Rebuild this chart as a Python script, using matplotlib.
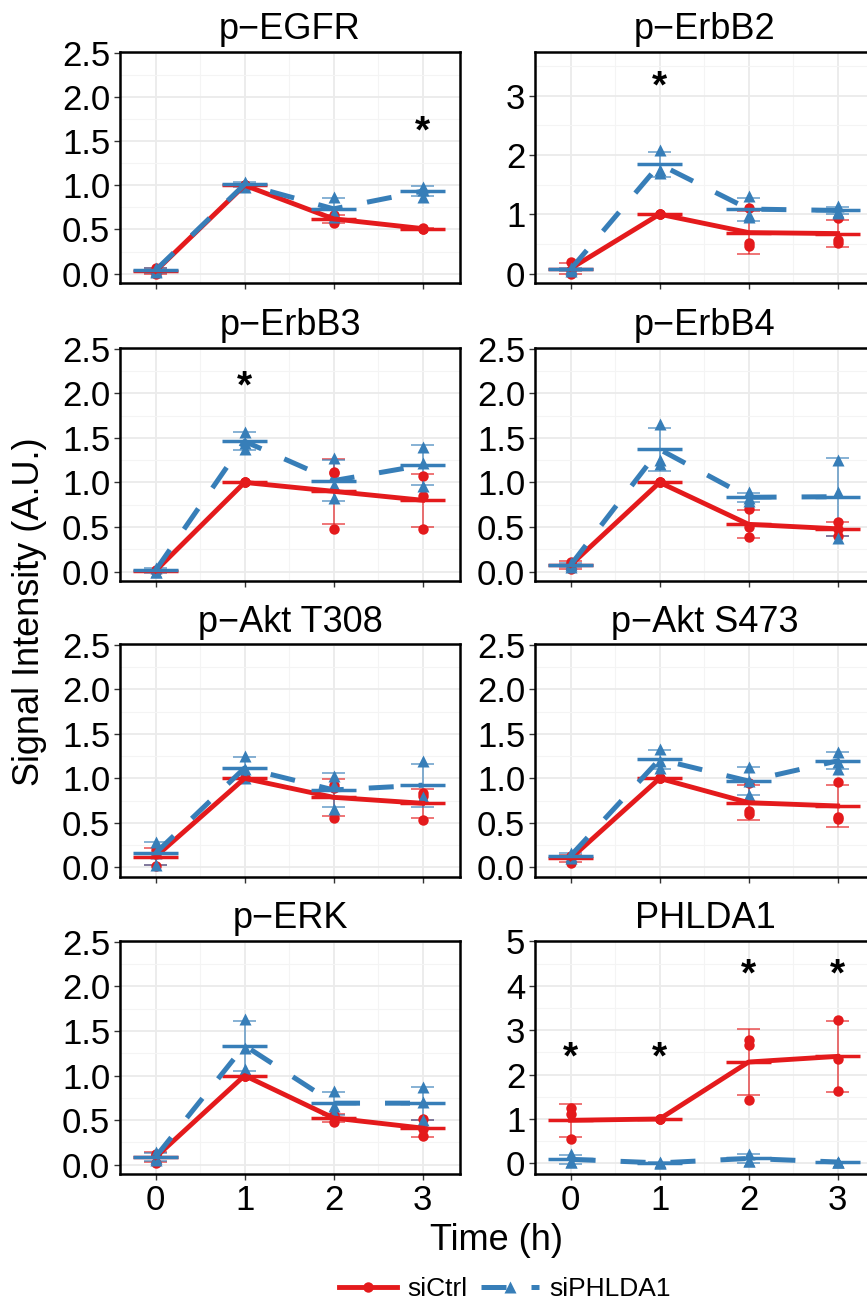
import numpy as np
import matplotlib
matplotlib.use("Agg")
import matplotlib.pyplot as plt
from matplotlib.lines import Line2D

plt.rcParams['font.family'] = ['Liberation Sans', 'DejaVu Sans']

# ---------------- data (replicates: 4 time points x 3 replicates) ----------------
TIME = [0, 1, 2, 3]
TITLES = ["p\u2212EGFR", "p\u2212ErbB2", "p\u2212ErbB3", "p\u2212ErbB4",
          "p\u2212Akt T308", "p\u2212Akt S473", "p\u2212ERK", "PHLDA1"]

EGFR_CTRL = [[0.00, 0.03, 0.06], [1, 1, 1], [0.57, 0.63, 0.66], [0.50, 0.51, 0.52]]
EGFR_SI   = [[0.02, 0.03, 0.07], [0.98, 1.01, 1.04], [0.87, 0.69, 0.64], [0.98, 0.87, 0.95]]

ERBB2_CTRL = [[0.19, 0.00, 0.06], [1, 1, 1], [0.46, 1.10, 0.51], [0.93, 0.57, 0.52]]
ERBB2_SI   = [[0.05, 0.07, 0.09], [2.08, 1.75, 1.69], [1.31, 0.96, 0.99], [1.13, 1.02, 1.04]]

ERBB3_CTRL = [[0.00, 0.01, 0.02], [1, 1, 1], [0.48, 1.10, 1.12], [0.48, 0.85, 1.07]]
ERBB3_SI   = [[0.00, 0.00, 0.045], [1.57, 1.37, 1.44], [1.27, 0.82, 0.97], [1.40, 1.22, 0.96]]

ERBB4_CTRL = [[0.03, 0.08, 0.11], [1, 1, 1], [0.70, 0.50, 0.39], [0.56, 0.48, 0.40]]
ERBB4_SI   = [[0.05, 0.07, 0.10], [1.65, 1.25, 1.21], [0.89, 0.82, 0.79], [1.25, 0.89, 0.38]]

AKT308_CTRL = [[0.01, 0.15, 0.20], [1, 1, 1], [0.55, 0.92, 0.89], [0.53, 0.83, 0.80]]
AKT308_SI   = [[0.29, 0.03, 0.16], [1.25, 1.10, 1.00], [1.03, 0.66, 0.92], [1.20, 0.79, 0.78]]

AKT473_CTRL = [[0.05, 0.12, 0.13], [1, 1, 1], [0.63, 0.60, 0.95], [0.96, 0.57, 0.54]]
AKT473_SI   = [[0.10, 0.13, 0.16], [1.33, 1.19, 1.12], [1.13, 0.97, 0.81], [1.30, 1.18, 1.11]]

ERK_CTRL = [[0.02, 0.11, 0.12], [1, 1, 1], [0.48, 0.53, 0.56], [0.51, 0.40, 0.32]]
ERK_SI   = [[0.14, 0.05, 0.07], [1.63, 1.31, 1.07], [0.83, 0.66, 0.58], [0.87, 0.70, 0.50]]

PHLDA1_CTRL = [[1.25, 1.12, 0.54], [1, 1, 1], [2.77, 2.66, 1.42], [3.24, 2.36, 1.63]]
PHLDA1_SI   = [[0.20, 0.04, 0.03], [0.01, 0.02, 0.00], [0.22, 0.06, 0.05], [0.03, 0.04, 0.02]]

# significance stars: (time, y)
EGFR_STARS = [(3, 1.68)]
ERBB2_STARS = [(1, 3.25)]
ERBB3_STARS = [(1, 2.14)]
PHLDA1_STARS = [(0, 2.51), (1, 2.51), (2, 4.39), (3, 4.39)]

LEGEND_LABELS = ["siCtrl", "siPHLDA1"]

# ---------------- layout ----------------
W, H = 867, 1301
RED = "#E41A1C"
BLUE = "#377EB8"
fig = plt.figure(figsize=(W / 100, H / 100), dpi=100)

COL_LEFT = [120, 535]
AX_W = 340
ROWS = [(51.7, 283), (347.7, 581), (644, 876.7), (941, 1174)]

panels = [
    (EGFR_CTRL, EGFR_SI, EGFR_STARS),
    (ERBB2_CTRL, ERBB2_SI, ERBB2_STARS),
    (ERBB3_CTRL, ERBB3_SI, ERBB3_STARS),
    (ERBB4_CTRL, ERBB4_SI, []),
    (AKT308_CTRL, AKT308_SI, []),
    (AKT473_CTRL, AKT473_SI, []),
    (ERK_CTRL, ERK_SI, []),
    (PHLDA1_CTRL, PHLDA1_SI, PHLDA1_STARS),
]

t = np.array(TIME, dtype=float)

for i, (ctrl, si, stars) in enumerate(panels):
    r, c = divmod(i, 2)
    top, bot = ROWS[r]
    ax = fig.add_axes([COL_LEFT[c] / W, 1 - bot / H, AX_W / W, (bot - top) / H])
    ax.set_xlim(-0.4, 3.42)
    if i == 1:
        ax.set_ylim(-0.16, 3.74)
        ax.set_yticks([0, 1, 2, 3])
        ax.set_yticks([0.5, 1.5, 2.5, 3.5], minor=True)
        ax.set_yticklabels(["0", "1", "2", "3"])
    elif i == 7:
        ax.set_ylim(-0.24, 5.01)
        ax.set_yticks([0, 1, 2, 3, 4, 5])
        ax.set_yticks([0.5, 1.5, 2.5, 3.5, 4.5], minor=True)
        ax.set_yticklabels(["0", "1", "2", "3", "4", "5"])
    else:
        ax.set_ylim(-0.105, 2.51)
        ax.set_yticks([0, 0.5, 1.0, 1.5, 2.0, 2.5])
        ax.set_yticks([0.25, 0.75, 1.25, 1.75, 2.25], minor=True)
        ax.set_yticklabels(["0.0", "0.5", "1.0", "1.5", "2.0", "2.5"])
    ax.set_xticks(TIME)
    ax.set_xticks([0.5, 1.5, 2.5], minor=True)
    ax.set_xticklabels([str(v) for v in TIME])
    ax.grid(which="major", color="#EBEBEB", lw=1.3)
    ax.grid(which="minor", color="#F4F4F4", lw=0.8)
    ax.set_axisbelow(True)
    ax.tick_params(which="major", direction="out", length=4, width=1.0,
                   color="#333333", labelsize=25, pad=3, labelcolor="black")
    ax.tick_params(which="minor", length=0)
    if r != 3:
        ax.tick_params(labelbottom=False)
    for sp in ax.spines.values():
        sp.set_linewidth(1.8)
        sp.set_color("black")
    ax.set_title(TITLES[i], fontsize=26, pad=9)

    for reps, color, marker, ms, ls, lw in [
        (ctrl, RED, "o", 7.5, "-", 3.5),
        (si, BLUE, "^", 9, (0, (5, 5)), 3.6),
    ]:
        arr = np.array(reps, dtype=float)
        m = arr.mean(axis=1)
        s = arr.std(axis=1, ddof=1)
        ax.vlines(t, m - s, m + s, color=color, lw=1.2, alpha=0.7, zorder=2)
        ax.hlines(m - s, t - 0.13, t + 0.13, color=color, lw=1.2, alpha=0.7, zorder=2)
        ax.hlines(m + s, t - 0.13, t + 0.13, color=color, lw=1.2, alpha=0.7, zorder=2)
        ax.plot(np.repeat(t, arr.shape[1]), arr.ravel(), ls="none", marker=marker,
                ms=ms, color=color, mec="none", zorder=3)
        ax.plot(t, m, color=color, lw=lw, ls=ls, zorder=4)
        ax.hlines(m, t - 0.25, t + 0.25, color=color, lw=2.5, zorder=4)

    for (sx, sy) in stars:
        ax.annotate("*", xy=(sx, sy), xytext=(0, -5), textcoords="offset points",
                    ha="center", va="center", fontsize=28, fontweight="bold",
                    color="black", zorder=5)

fig.text(30 / W, 1 - 612 / H, "Signal Intensity (A.U.)", rotation=90,
         ha="center", va="center", fontsize=26)
fig.text(497 / W, 1 - 1240 / H, "Time (h)", ha="center", va="center", fontsize=26)

handles = [
    Line2D([], [], color=RED, lw=3.5, marker="o", ms=7.5, mec="none"),
    Line2D([], [], color=BLUE, lw=3.6, ls=(0, (5, 5)), marker="^", ms=9, mec="none"),
]
fig.legend(handles, LEGEND_LABELS, loc="center", bbox_to_anchor=(505 / W, 1 - 1289 / H),
           ncol=2, frameon=False, fontsize=19, handlelength=2.2, handletextpad=0.4,
           columnspacing=0.5, borderpad=0, borderaxespad=0)

fig.savefig("out.png", dpi=100)
